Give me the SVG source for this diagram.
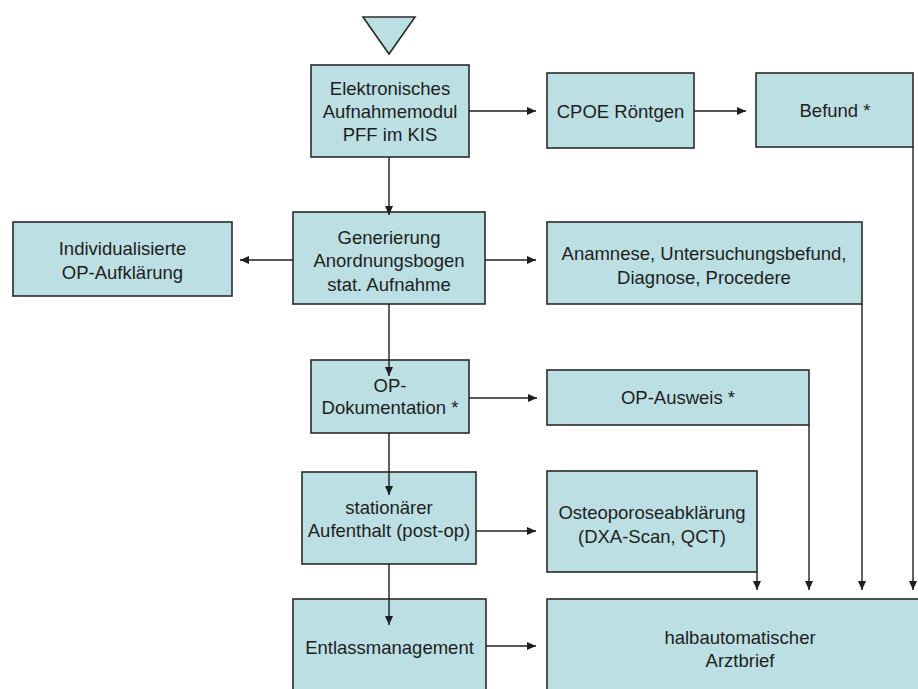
<svg xmlns="http://www.w3.org/2000/svg" width="918" height="689" viewBox="0 0 918 689">
<defs>
<style>
.box{fill:#bcdfe3;stroke:#2b2b2b;stroke-width:1.6}
.t{font-family:"Liberation Sans",Arial,sans-serif;font-size:18.5px;fill:#1e1e1e;text-anchor:middle}
.c{stroke:#1e1e1e;stroke-width:1.4;fill:none;marker-end:url(#ah)}
</style>
<marker id="ah" markerUnits="userSpaceOnUse" markerWidth="9" markerHeight="8" refX="9" refY="4" orient="auto">
<path d="M0,0 L9,4 L0,8 z" fill="#1e1e1e"/>
</marker>
</defs>
<rect width="918" height="689" fill="#ffffff"/>
<g id="start"><polygon class="box" points="363,17 415,17 389,54"/></g>
<g id="n-aufnahme"><rect class="box" x="311" y="65" width="158" height="92"/>
<text class="t" x="390" y="94.5">Elektronisches</text><text class="t" x="390" y="117.5">Aufnahmemodul</text><text class="t" x="390" y="141">PFF im KIS</text></g>
<g id="n-cpoe"><rect class="box" x="547" y="73" width="147" height="75"/><text class="t" x="620.5" y="117.5">CPOE Röntgen</text></g>
<g id="n-befund"><rect class="box" x="756" y="73" width="157" height="74"/><text class="t" x="835" y="116.5">Befund *</text></g>
<g id="n-aufklaerung"><rect class="box" x="13" y="222" width="219" height="74"/><text class="t" x="122.5" y="254.5">Individualisierte</text><text class="t" x="122.5" y="278.5">OP-Aufklärung</text></g>
<g id="n-generierung"><rect class="box" x="293" y="212" width="192" height="92"/><text class="t" x="389" y="243.5">Generierung</text><text class="t" x="389" y="267">Anordnungsbogen</text><text class="t" x="389" y="291">stat. Aufnahme</text></g>
<g id="n-anamnese"><rect class="box" x="547" y="222" width="315" height="82"/><text class="t" x="704" y="259.5">Anamnese, Untersuchungsbefund,</text><text class="t" x="704" y="283.5">Diagnose, Procedere</text></g>
<g id="n-opdok"><rect class="box" x="311" y="360" width="158" height="73"/><text class="t" x="390" y="391.5">OP-</text><text class="t" x="390" y="413.5">Dokumentation *</text></g>
<g id="n-opausweis"><rect class="box" x="547" y="370" width="262" height="55"/><text class="t" x="678" y="403.5">OP-Ausweis *</text></g>
<g id="n-stationaer"><rect class="box" x="302" y="472" width="174" height="92"/><text class="t" x="389" y="513.5">stationärer</text><text class="t" x="389" y="536.5">Aufenthalt (post-op)</text></g>
<g id="n-osteo"><rect class="box" x="547" y="471" width="210" height="101"/><text class="t" x="652" y="518.5">Osteoporoseabklärung</text><text class="t" x="652" y="542.5">(DXA-Scan, QCT)</text></g>
<g id="n-entlass"><rect class="box" x="293" y="599" width="193" height="110"/><text class="t" x="389.5" y="653.5">Entlassmanagement</text></g>
<g id="n-arztbrief"><rect class="box" x="547" y="599" width="386" height="110"/><text class="t" x="740" y="643.5">halbautomatischer</text><text class="t" x="740" y="666.5">Arztbrief</text></g>
<g id="connectors">
<line class="c" x1="389" y1="157" x2="389" y2="215"/>
<line class="c" x1="469" y1="111" x2="536" y2="111"/>
<line class="c" x1="694" y1="111" x2="746" y2="111"/>
<line class="c" x1="293" y1="260" x2="240" y2="260"/>
<line class="c" x1="485" y1="260" x2="536" y2="260"/>
<line class="c" x1="389" y1="304" x2="389" y2="376"/>
<line class="c" x1="469" y1="398" x2="537" y2="398"/>
<line class="c" x1="389" y1="433" x2="389" y2="495"/>
<line class="c" x1="476" y1="531" x2="536" y2="531"/>
<line class="c" x1="389" y1="564" x2="389" y2="625"/>
<line class="c" x1="486" y1="646" x2="536" y2="646"/>
<line class="c" x1="913" y1="147" x2="913" y2="590"/>
<line class="c" x1="862" y1="304" x2="862" y2="590"/>
<line class="c" x1="809" y1="425" x2="809" y2="590"/>
<line class="c" x1="757" y1="572" x2="757" y2="590"/>
</g>
</svg>
